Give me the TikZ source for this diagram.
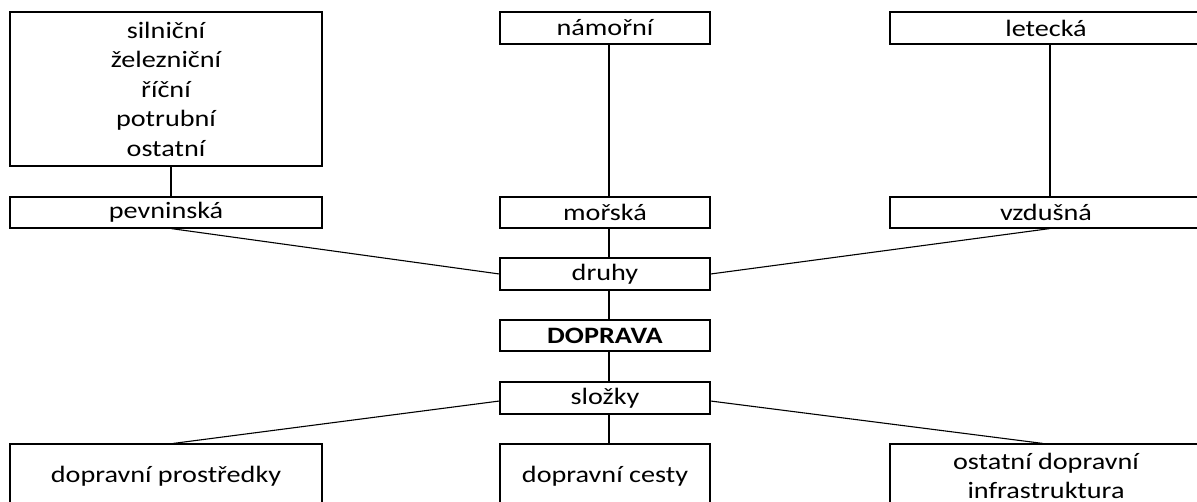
\documentclass[tikz,border=0pt]{standalone}
\usepackage{fontspec}
\setmainfont{Carlito}[FakeStretch=1.2]
\begin{document}
\begin{tikzpicture}[x=1pt,y=-1pt,
  box/.style={draw, line width=1.1pt, inner sep=0pt, align=center,
    font=\fontsize{23.5}{29.5}\selectfont, text=black},
  conn/.style={line width=1.1pt}]
\useasboundingbox (0,0) rectangle (1197,501);
\clip (0,0) rectangle (1197,501);
% top row
\node[box, minimum width=312pt, minimum height=154pt] (tl) at (166,89)
  {silniční\\železniční\\říční\\potrubní\\ostatní};
\node[box, minimum width=210pt, minimum height=32pt] (nam) at (605,28) {námořní};
\node[box, minimum width=312pt, minimum height=32pt] (let) at (1046,28) {letecká};
% second row
\node[box, minimum width=312pt, minimum height=31pt] (pev) at (166,212.5) {pevninská};
\node[box, minimum width=210pt, minimum height=31pt] (mor) at (605,212.5) {mořská};
\node[box, minimum width=312pt, minimum height=31pt] (vzd) at (1046,212.5) {vzdušná};
% centre column
\node[box, minimum width=210pt, minimum height=32pt] (dru) at (605,274) {druhy};
\node[box, minimum width=210pt, minimum height=31pt, font=\fontsize{23.5}{29.5}\selectfont\bfseries] (dop) at (605,335.5) {DOPRAVA};
\node[box, minimum width=210pt, minimum height=32pt] (slo) at (605,398) {složky};
% bottom row
\node[box, minimum width=312pt, minimum height=64pt] (pro) at (166,476) {\raisebox{3pt}{dopravní prostředky}};
\node[box, minimum width=210pt, minimum height=64pt] (ces) at (605,476) {\raisebox{3pt}{dopravní cesty}};
\node[box, minimum width=312pt, minimum height=64pt, text depth=0pt] (inf) at (1046,476) {ostatní dopravní\\infrastruktura};
% connectors
\draw[conn] ([xshift=5pt]tl.south) -- ([xshift=5pt]pev.north);
\draw[conn] ([xshift=4pt]nam.south) -- ([xshift=4pt]mor.north);
\draw[conn] ([xshift=4pt]let.south) -- ([xshift=4pt]vzd.north);
\draw[conn] ([xshift=5pt]pev.south) -- (dru.west);
\draw[conn] ([xshift=4pt]vzd.south) -- (dru.east);
\draw[conn] ([xshift=4pt]mor.south) -- ([xshift=4pt]dru.north);
\draw[conn] ([xshift=4pt]dru.south) -- ([xshift=4pt]dop.north);
\draw[conn] ([xshift=4pt]dop.south) -- ([xshift=4pt]slo.north);
\draw[conn] ([xshift=4pt]slo.south) -- ([xshift=4pt]ces.north);
\draw[conn] ([yshift=-3pt]slo.west) -- ([xshift=7pt]pro.north);
\draw[conn] ([yshift=-3pt]slo.east) -- ([xshift=-3pt]inf.north);
\end{tikzpicture}
\end{document}
